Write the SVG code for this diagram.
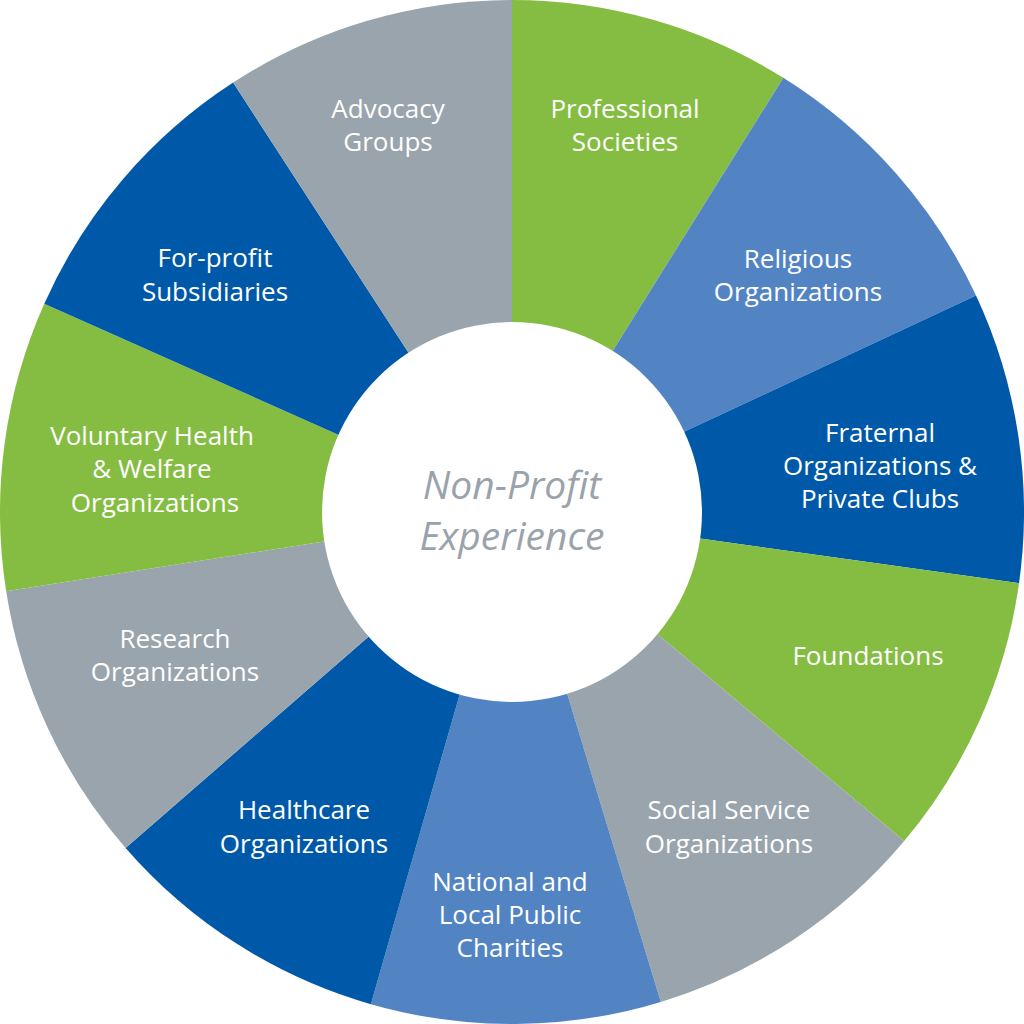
<svg xmlns="http://www.w3.org/2000/svg" width="1024" height="1024" viewBox="0 0 1024 1024">
<style>
.green{fill:#84BD42}
.lblue{fill:#5284C4}
.dblue{fill:#0059A8}
.gray{fill:#9AA4AC}
.lbl{font-family:"Open Sans","Liberation Sans",sans-serif;font-size:26px;fill:#FFFFFF;text-anchor:middle}
.ctr{font-family:"Open Sans","Liberation Sans",sans-serif;font-style:italic;font-size:39px;fill:#9AA3AB;text-anchor:middle}
</style>
<rect width="1024" height="1024" fill="#FFFFFF"/>
<g id="seg-professional-societies">
<path class="green" d="M512 512 L512 0 A512 512 0 0 1 783.32 77.80 Z"/>
<text class="lbl" x="625" y="118">Professional</text>
<text class="lbl" x="625" y="151">Societies</text>
</g>
<g id="seg-religious-organizations">
<path class="lblue" d="M512 512 L783.32 77.80 A512 512 0 0 1 976.03 295.62 Z"/>
<text class="lbl" x="798" y="268">Religious</text>
<text class="lbl" x="798" y="301">Organizations</text>
</g>
<g id="seg-fraternal">
<path class="dblue" d="M512 512 L976.03 295.62 A512 512 0 0 1 1019.02 583.26 Z"/>
<text class="lbl" x="880" y="442">Fraternal</text>
<text class="lbl" x="880" y="475">Organizations &amp;</text>
<text class="lbl" x="880" y="508">Private Clubs</text>
</g>
<g id="seg-foundations">
<path class="green" d="M512 512 L1019.02 583.26 A512 512 0 0 1 904.21 841.11 Z"/>
<text class="lbl" x="868" y="665">Foundations</text>
</g>
<g id="seg-social-service">
<path class="gray" d="M512 512 L904.21 841.11 A512 512 0 0 1 660.84 1001.89 Z"/>
<text class="lbl" x="729" y="819">Social Service</text>
<text class="lbl" x="729" y="853">Organizations</text>
</g>
<g id="seg-public-charities">
<path class="lblue" d="M512 512 L660.84 1001.89 A512 512 0 0 1 370.87 1004.17 Z"/>
<text class="lbl" x="510" y="891">National and</text>
<text class="lbl" x="510" y="924">Local Public</text>
<text class="lbl" x="510" y="957">Charities</text>
</g>
<g id="seg-healthcare">
<path class="dblue" d="M512 512 L370.87 1004.17 A512 512 0 0 1 125.58 847.90 Z"/>
<text class="lbl" x="304" y="819">Healthcare</text>
<text class="lbl" x="304" y="853">Organizations</text>
</g>
<g id="seg-research">
<path class="gray" d="M512 512 L125.58 847.90 A512 512 0 0 1 6.17 591.21 Z"/>
<text class="lbl" x="175" y="648">Research</text>
<text class="lbl" x="175" y="681">Organizations</text>
</g>
<g id="seg-voluntary-health">
<path class="green" d="M512 512 L6.17 591.21 A512 512 0 0 1 44.27 303.75 Z"/>
<text class="lbl" x="152" y="445">Voluntary Health</text>
<text class="lbl" x="152" y="478">&amp; Welfare</text>
<text class="lbl" x="155" y="512">Organizations</text>
</g>
<g id="seg-for-profit">
<path class="dblue" d="M512 512 L44.27 303.75 A512 512 0 0 1 233.14 82.60 Z"/>
<text class="lbl" x="215" y="267">For-profit</text>
<text class="lbl" x="215" y="301">Subsidiaries</text>
</g>
<g id="seg-advocacy">
<path class="gray" d="M512 512 L233.14 82.60 A512 512 0 0 1 512 0 Z"/>
<text class="lbl" x="388" y="118">Advocacy</text>
<text class="lbl" x="388" y="151">Groups</text>
</g>
<g id="center">
<circle cx="512" cy="512" r="190" fill="#FFFFFF"/>
<text class="ctr" x="512" y="499">Non-Profit</text>
<text class="ctr" x="512" y="550">Experience</text>
</g>
<g id="connectors"></g>
</svg>
